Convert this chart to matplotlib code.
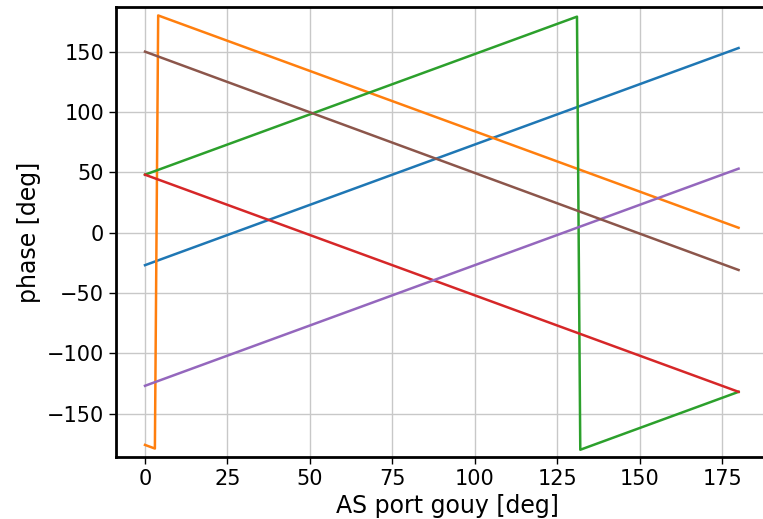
import matplotlib
matplotlib.use("Agg")
from matplotlib import pyplot as plt

# vertices (lines are straight between them)
blue_x = [0, 180]
blue_y = [-27, 153]
orange_x = [0, 3, 4, 180]
orange_y = [-176, -179, 180, 4]
green_x = [0, 131, 132, 180]
green_y = [48, 179, -180, -132]
red_x = [0, 180]
red_y = [48, -132]
purple_x = [0, 180]
purple_y = [-127, 53]
brown_x = [0, 180]
brown_y = [150, -31]

series = [
    (blue_x, blue_y, "C0"),
    (orange_x, orange_y, "C1"),
    (green_x, green_y, "C2"),
    (red_x, red_y, "C3"),
    (purple_x, purple_y, "C4"),
    (brown_x, brown_y, "C5"),
]

plt.rcParams["font.size"] = 15
fig = plt.figure(figsize=(7.63, 5.19), dpi=100)
# axes runs past the right edge of the figure, as in the reference crop
ax = fig.add_axes([0.152, 0.1195, 0.87, 0.867])
for xs, ys, c in series:
    ax.plot(xs, ys, color=c, lw=1.8)

ax.set_xlim(-8.8, 192.5)
ax.set_ylim(-186, 187)
ax.set_xticks([0, 25, 50, 75, 100, 125, 150, 175])
ax.set_yticks([-150, -100, -50, 0, 50, 100, 150])
ax.grid(True, color="#c8c8c8", lw=1)
ax.set_axisbelow(True)
for s in ax.spines.values():
    s.set_linewidth(2)
ax.spines["right"].set_visible(False)
ax.tick_params(width=1, length=5)
ax.set_xlabel("AS port gouy [deg]", fontsize=17)
ax.set_ylabel("phase [deg]", fontsize=17)

fig.savefig("out.png", dpi=100)
